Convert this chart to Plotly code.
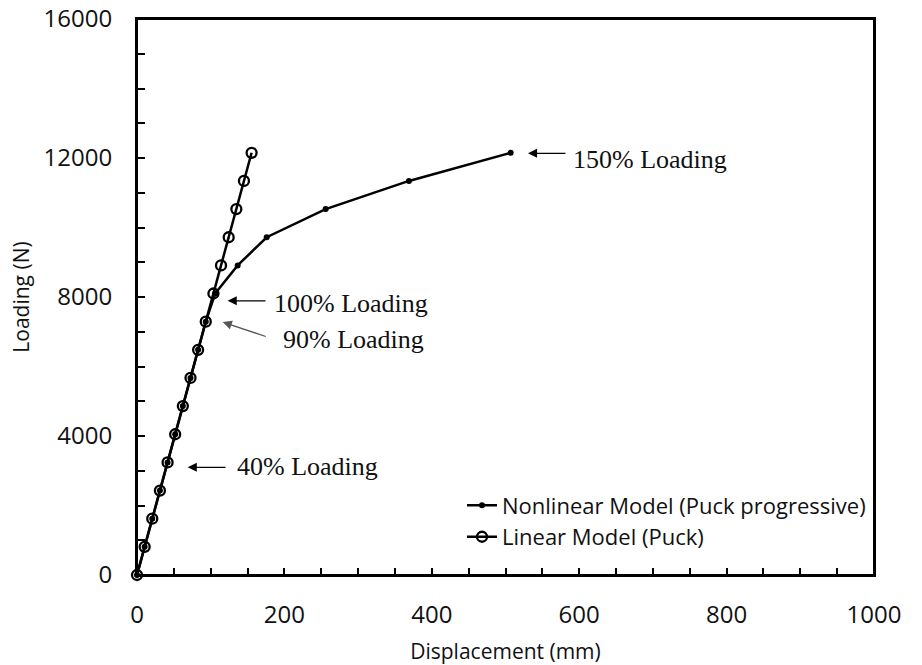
import plotly.graph_objects as go

# Data
loading = [0, 810, 1620, 2430, 3240, 4050, 4860, 5670, 6480, 7290,
           8100, 8910, 9720, 10530, 11340, 12150]
linear_disp = [0, 10.4, 20.7, 31.1, 41.5, 51.8, 62.2, 72.6, 82.9, 93.3,
               103.7, 114.0, 124.4, 134.8, 145.1, 155.5]
nonlinear_disp = [0, 10.4, 20.7, 31.1, 41.5, 51.8, 62.2, 72.6, 82.9, 93.3,
                  106.0, 136.6, 176.0, 256.0, 369.0, 507.0]

x_ticks = [0, 200, 400, 600, 800, 1000]
y_ticks = [0, 4000, 8000, 12000, 16000]

# annotations: (label, tip_x, tip_y, tail_x, tail_y, text_x, text_y, color)
notes = [
    ("150% Loading", 530.5, 12135, 583.4, 12135, 589, 11963, "#000000"),
    ("100% Loading", 123.0, 7890, 176.4, 7890, 183, 7822, "#000000"),
    ("90% Loading", 116.3, 7278, 176.8, 6849, 195, 6783, "#555555"),
    ("40% Loading", 68.8, 3100, 122.1, 3100, 133, 3120, "#000000"),
]

fig = go.Figure()

fig.add_trace(go.Scatter(
    x=linear_disp, y=loading, mode="lines+markers",
    name="Linear Model (Puck)", legendrank=2, cliponaxis=False,
    line=dict(color="black", width=2.5),
    marker=dict(symbol="circle-open", size=10, color="black",
                line=dict(color="black", width=2.3)),
))
fig.add_trace(go.Scatter(
    x=nonlinear_disp, y=loading, mode="lines+markers",
    name="Nonlinear Model (Puck progressive)", legendrank=1, cliponaxis=False,
    line=dict(color="black", width=2.5),
    marker=dict(symbol="circle", size=6, color="black"),
))

annotations = []
for label, tx, ty, ax, ay, lx, ly, col in notes:
    annotations.append(dict(
        x=tx, y=ty, ax=ax, ay=ay, xref="x", yref="y", axref="x", ayref="y",
        text="", showarrow=True, arrowhead=2, arrowsize=1.4, arrowwidth=1.3,
        arrowcolor=col, standoff=0, startstandoff=0,
    ))
    annotations.append(dict(
        x=lx, y=ly, xref="x", yref="y", text=label, showarrow=False,
        xanchor="left", yanchor="middle",
        font=dict(family="Liberation Serif, Times New Roman, serif", size=26, color="#111111"),
    ))

fig.update_layout(
    width=922, height=665,
    margin=dict(l=137, r=48, t=19, b=90),
    paper_bgcolor="white", plot_bgcolor="white",
    font=dict(family="Open Sans, sans-serif", color="#111111"),
    showlegend=True,
    legend=dict(
        x=0.441, y=0.163, xanchor="left", yanchor="top",
        bgcolor="rgba(0,0,0,0)", borderwidth=0,
        font=dict(family="Open Sans, sans-serif", size=22, color="#111111"),
        tracegroupgap=0, itemwidth=30,
    ),
    annotations=annotations,
    shapes=[dict(type="rect", xref="paper", yref="paper", x0=0, x1=1, y0=0, y1=1,
                 line=dict(color="black", width=2), layer="above")],
)

fig.update_xaxes(
    range=[0, 1000], tickvals=x_ticks, ticktext=[str(v) for v in x_ticks],
    showgrid=False, zeroline=False, automargin=False,
    showline=True, linecolor="black", linewidth=2, mirror=True,
    ticks="inside", ticklen=7, tickwidth=1.5, tickcolor="black",
    minor=dict(dtick=50, tick0=0, ticks="inside", ticklen=7, tickwidth=1.5,
               tickcolor="black", showgrid=False),
    tickfont=dict(size=24, color="#111111"),
    ticklabelstandoff=17, ticklabeloverflow="allow",
    title=dict(text="Displacement (mm)", font=dict(size=21, color="#111111"), standoff=16),
)
fig.update_yaxes(
    range=[0, 16000], tickvals=y_ticks, ticktext=[str(v) for v in y_ticks],
    showgrid=False, zeroline=False, automargin=False,
    showline=True, linecolor="black", linewidth=2, mirror=True,
    ticks="inside", ticklen=8, tickwidth=1.5, tickcolor="black",
    minor=dict(dtick=1000, tick0=0, ticks="inside", ticklen=8, tickwidth=1.5,
               tickcolor="black", showgrid=False),
    tickfont=dict(size=24, color="#111111"),
    ticklabelstandoff=18, ticklabeloverflow="allow",
    title=dict(text="Loading (N)", font=dict(size=21, color="#111111"), standoff=8),
)

fig.write_html("out.html")
